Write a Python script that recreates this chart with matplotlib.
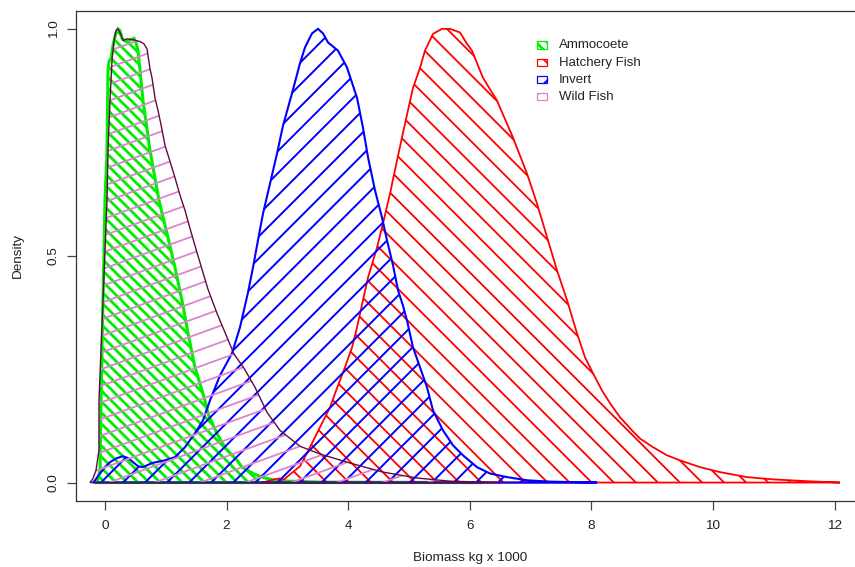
import numpy as np
import matplotlib
matplotlib.use("Agg")
import matplotlib.pyplot as plt
from matplotlib.patches import Polygon, Rectangle
from matplotlib.collections import LineCollection

plt.rcParams['font.family'] = ['Liberation Sans', 'DejaVu Sans']

# scaled kernel densities (peak = 1), biomass in kg x 1000
ammo_x = [-0.132, -0.082, -0.066, -0.033, -0.016, 0.0, 0.033, 0.049, 0.066, 0.099, 0.132, 0.181,
          0.214, 0.247, 0.280, 0.345, 0.428, 0.477, 0.510, 0.543, 0.625, 0.740, 0.888, 1.020,
          1.151, 1.266, 1.365, 1.480, 1.645, 1.694, 1.842, 1.974, 2.171, 2.253, 2.434, 2.582,
          2.796, 3.043, 3.536, 6.200]
ammo_y = [0.0, 0.027, 0.181, 0.402, 0.512, 0.622, 0.732, 0.908, 0.928, 0.935, 0.964, 0.992,
          1.0, 0.996, 0.979, 0.972, 0.976, 0.979, 0.970, 0.952, 0.842, 0.732, 0.622, 0.549,
          0.474, 0.402, 0.329, 0.254, 0.181, 0.152, 0.108, 0.077, 0.049, 0.034, 0.020, 0.012,
          0.005, 0.003, 0.001, 0.0]

hatchery_x = [2.582, 2.681, 2.780, 2.862, 2.944, 3.043, 3.207, 3.372, 3.536, 3.701, 3.832, 3.947,
              4.063, 4.145, 4.243, 4.326, 4.474, 4.572, 4.688, 4.803, 4.934, 5.066, 5.181, 5.263,
              5.395, 5.543, 5.674, 5.839, 5.954, 6.036, 6.217, 6.447, 6.711, 6.941, 7.105, 7.286,
              7.434, 7.599, 7.763, 7.895, 8.026, 8.174, 8.306, 8.470, 8.668, 8.799, 9.013, 9.243,
              9.457, 9.786, 10.115, 10.559, 10.987, 11.546, 12.089]
hatchery_y = [0.0, 0.003, 0.007, 0.009, 0.007, 0.018, 0.036, 0.078, 0.122, 0.166, 0.214, 0.254,
              0.298, 0.342, 0.402, 0.452, 0.518, 0.571, 0.637, 0.710, 0.791, 0.870, 0.914, 0.952,
              0.989, 1.0, 1.0, 0.992, 0.967, 0.952, 0.892, 0.842, 0.760, 0.681, 0.615, 0.534,
              0.468, 0.402, 0.329, 0.276, 0.241, 0.203, 0.175, 0.144, 0.115, 0.097, 0.078, 0.060,
              0.049, 0.034, 0.023, 0.012, 0.007, 0.003, 0.0]

invert_x = [-0.197, -0.164, -0.082, 0.0, 0.082, 0.197, 0.296, 0.378, 0.461, 0.543, 0.625, 0.773,
            0.987, 1.151, 1.316, 1.480, 1.612, 1.727, 1.891, 2.089, 2.220, 2.352, 2.434, 2.516,
            2.599, 2.714, 2.829, 2.928, 3.076, 3.207, 3.289, 3.405, 3.503, 3.586, 3.668, 3.832,
            3.980, 4.145, 4.243, 4.326, 4.441, 4.556, 4.638, 4.737, 4.819, 4.901, 4.967, 5.066,
            5.181, 5.296, 5.395, 5.559, 5.724, 5.888, 6.118, 6.332, 6.612, 6.941, 7.319, 8.092]
invert_y = [0.0, 0.005, 0.020, 0.034, 0.045, 0.054, 0.058, 0.054, 0.045, 0.036, 0.034, 0.043,
            0.049, 0.056, 0.078, 0.109, 0.137, 0.181, 0.236, 0.285, 0.342, 0.419, 0.474, 0.534,
            0.593, 0.659, 0.725, 0.787, 0.858, 0.924, 0.959, 0.990, 1.0, 0.990, 0.970, 0.952,
            0.915, 0.848, 0.782, 0.717, 0.644, 0.584, 0.534, 0.479, 0.424, 0.390, 0.357, 0.298,
            0.254, 0.210, 0.159, 0.115, 0.082, 0.060, 0.034, 0.020, 0.012, 0.005, 0.002, 0.0]

wild_x = [-0.247, -0.197, -0.148, -0.099, -0.099, -0.066, -0.033, 0.0, 0.033, 0.049, 0.082, 0.115,
          0.148, 0.181, 0.214, 0.263, 0.296, 0.362, 0.461, 0.576, 0.641, 0.691, 0.740, 0.773,
          0.822, 0.872, 0.921, 0.987, 1.069, 1.151, 1.234, 1.316, 1.398, 1.513, 1.694, 1.842,
          2.007, 2.122, 2.286, 2.467, 2.664, 2.878, 3.207, 3.536, 4.030, 4.572, 5.132, 5.674, 6.497]
wild_y = [0.0, 0.009, 0.027, 0.071, 0.181, 0.291, 0.402, 0.512, 0.622, 0.732, 0.842, 0.930,
          0.974, 0.996, 1.0, 0.987, 0.974, 0.978, 0.976, 0.972, 0.967, 0.956, 0.912, 0.892,
          0.848, 0.820, 0.789, 0.743, 0.708, 0.672, 0.633, 0.600, 0.560, 0.507, 0.426, 0.373,
          0.320, 0.283, 0.252, 0.210, 0.155, 0.115, 0.080, 0.063, 0.043, 0.023, 0.010, 0.003, 0.0]

groups = ["Ammocoete", "Hatchery Fish", "Invert", "Wild Fish"]
curves = [(ammo_x, ammo_y), (hatchery_x, hatchery_y), (invert_x, invert_y), (wild_x, wild_y)]

# hatch styling per group: colour, border colour, angle (deg), gap between lines (px)
fill_cols = ["#00ee00", "#ff0000", "#0000ff", "#dc84cf"]
edge_cols = ["#00ee00", "#ff0000", "#0000ff", "#5e0b45"]
angles = [-45, -45, 45, 20]
gaps = [7.8, 15.6, 15.6, 15.6]
anchors = [(110, 300), (525, 482), (300, 482), (200, 300)]   # a hatch line passes here (px from top-left)
hatch_lw = [2.0, 1.3, 1.4, 1.3]
edge_lw = [2.2, 1.3, 1.5, 1.0]

W, H = 855, 567
fig = plt.figure(figsize=(W / 100, H / 100), dpi=100)
ax = fig.add_axes([76 / W, 1 - 500.7 / H, (862 - 76) / W, 490 / H])


def hatch_segments(angle, gap, anchor):
    # parallel lines over the whole figure, in inches
    w, h = fig.get_size_inches()
    t = np.deg2rad(angle)
    u = np.array([np.cos(t), np.sin(t)])
    n = np.array([-np.sin(t), np.cos(t)])
    d = gap / fig.dpi
    p = np.array([anchor[0] / fig.dpi, (H - anchor[1]) / fig.dpi])
    off = np.dot(n, p) % d
    L = np.hypot(w, h) + 1
    segs = []
    for k in np.arange(-int(L / d) - 2, int(L / d) + 2):
        c = n * (k * d + off)
        segs.append([c - L * u, c + L * u])
    return segs


def add_hatch(container, clip, i, z):
    lc = LineCollection(hatch_segments(angles[i], gaps[i], anchors[i]),
                        colors=fill_cols[i], linewidths=hatch_lw[i],
                        transform=fig.dpi_scale_trans, zorder=z)
    if container is ax:
        ax.add_collection(lc, autolim=False)
    else:
        fig.add_artist(lc)
    lc.set_clip_path(clip)


for i, (x, y) in enumerate(curves):
    z = 2 + i
    poly = Polygon(np.column_stack([x, y]), closed=True, fill=False,
                   edgecolor=edge_cols[i], linewidth=edge_lw[i], zorder=z + 0.5)
    ax.add_patch(poly)
    add_hatch(ax, poly, i, z)

ax.set_xlim(-0.477, (862 - 105) / 60.8)
ax.set_ylim(-0.04, 1.04)
ax.set_xticks([0, 2, 4, 6, 8, 10, 12])
ax.set_yticks([0.0, 0.5, 1.0])
ax.set_yticklabels(["0.0", "0.5", "1.0"])

for s in ax.spines.values():
    s.set_color("#333333")
    s.set_linewidth(0.9)
ax.tick_params(direction="out", length=6.3, width=0.9, color="#444444",
               labelsize=9.7, labelcolor="#222222")
ax.tick_params(axis="x", pad=7.8)
ax.tick_params(axis="y", pad=5.5, labelrotation=90)
for lab in ax.get_yticklabels():
    lab.set_va("center")

fig.text(470 / W, 1 - 558 / H, "Biomass kg x 1000", ha="center", va="center",
         fontsize=9.7, color="#222222")
fig.text(18 / W, 1 - 256 / H, "Density", ha="center", va="center", rotation=90,
         fontsize=9.7, color="#222222")

# legend: small hatched boxes with labels
for i, name in enumerate(groups):
    yc = 45 + 17.2 * i
    box = Rectangle((537 / W, 1 - (yc + 3.5) / H), 10 / W, 7 / H, transform=fig.transFigure,
                    fill=False, edgecolor=fill_cols[i], linewidth=0.9, zorder=10)
    fig.add_artist(box)
    add_hatch(fig, box, i, 9)
    fig.text(559 / W, 1 - (yc + 0.5) / H, name, ha="left", va="center",
             fontsize=9.5, color="#222222")

fig.savefig("out.png", dpi=100)
